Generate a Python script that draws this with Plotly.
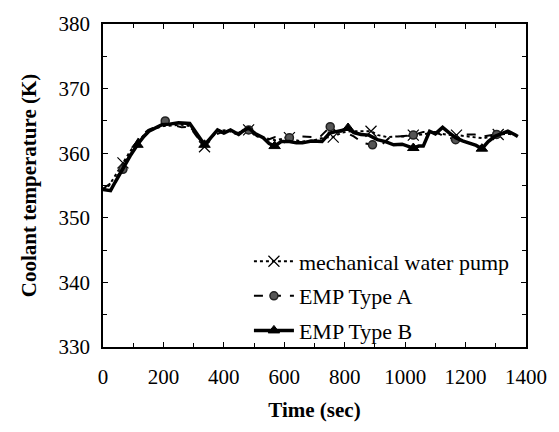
import plotly.graph_objects as go

# ---- data ----
t_mech = [0, 20, 40, 66, 90, 114, 140, 170, 200, 230, 260, 287, 310, 336, 360, 380, 410, 440, 482, 510,
          540, 570, 617, 640, 660, 700, 730, 762, 790, 820, 850, 887, 910, 940, 970, 1000, 1027, 1060, 1090,
          1120, 1150, 1170, 1200, 1230, 1260, 1290, 1308, 1340, 1370]
v_mech = [354.3, 355.0, 356.5, 358.5, 360.3, 361.8, 363.0, 363.8, 364.2, 364.3, 364.4, 364.2, 362.8, 361.0,
          362.5, 363.4, 363.6, 363.0, 363.6, 362.8, 362.3, 362.0, 362.4, 362.0, 361.8, 362.0, 362.4, 362.5,
          363.2, 363.4, 363.4, 363.4, 362.8, 362.5, 362.6, 362.6, 362.8, 362.9, 363.2, 363.0, 362.8, 362.8,
          362.6, 362.4, 362.3, 362.7, 362.9, 363.0, 362.8]
m_mech = [66, 336, 482, 617, 762, 887, 1027, 1170, 1308]

t_a = [0, 30, 66, 90, 120, 150, 180, 206, 230, 260, 287, 310, 336, 360, 390, 420, 450, 482, 510, 540,
       570, 617, 650, 690, 720, 752, 770, 800, 830, 860, 892, 920, 950, 990, 1027, 1060, 1100, 1130, 1167,
       1200, 1230, 1260, 1303, 1340, 1375]
v_a = [354.5, 355.5, 357.5, 360.0, 362.5, 363.6, 364.2, 365.0, 364.4, 364.0, 364.1, 362.6, 361.2, 362.6,
       363.2, 363.0, 363.2, 363.6, 362.6, 362.0, 362.5, 362.4, 362.6, 362.5, 362.6, 364.1, 363.4, 363.3,
       362.6, 361.6, 361.3, 361.2, 362.5, 362.6, 362.8, 363.3, 363.3, 362.6, 362.1, 362.9, 362.9, 362.6,
       362.9, 363.2, 362.4]
m_a = [66, 206, 482, 617, 752, 892, 1027, 1167, 1303]

t_b = [0, 25, 40, 66, 90, 114, 135, 152, 175, 195, 220, 250, 287, 310, 336, 355, 379, 400, 422, 449, 465,
       482, 505, 530, 550, 568, 590, 617, 640, 660, 690, 725, 750, 768, 790, 811, 830, 854, 880, 908, 935,
       962, 990, 1027, 1045, 1060, 1081, 1100, 1124, 1145, 1167, 1190, 1211, 1235, 1254, 1275, 1297, 1320,
       1340, 1362, 1373]
v_b = [354.4, 354.2, 355.5, 357.7, 359.6, 361.3, 362.6, 363.4, 364.0, 364.4, 364.5, 364.7, 364.6, 363.0,
       361.3, 362.3, 363.6, 363.1, 363.6, 362.9, 363.5, 363.9, 363.0, 362.4, 361.5, 361.1, 361.8, 361.8,
       361.6, 361.6, 361.9, 361.8, 363.1, 363.3, 363.5, 363.9, 363.2, 362.9, 362.8, 362.1, 361.8, 361.3,
       361.4, 360.8, 361.1, 361.1, 363.4, 363.0, 364.0, 363.2, 362.4, 361.9, 361.6, 361.2, 360.7, 361.8,
       362.6, 363.0, 363.4, 362.9, 362.6]
m_b = [114, 336, 568, 811, 1027, 1254]

names = ["mechanical water pump", "EMP Type A", "EMP Type B"]
x_ticks = [0, 200, 400, 600, 800, 1000, 1200, 1400]
y_ticks = [330, 340, 350, 360, 370, 380]

FONT = "Liberation Serif, Times New Roman, serif"


def pick(ts, vs, marks):
    idx = [ts.index(m) for m in marks]
    return [ts[i] for i in idx], [vs[i] for i in idx]


series = [
    (t_mech, v_mech, m_mech, dict(color="black", width=2, dash="dot"),
     dict(symbol="x-thin", size=11, line=dict(color="black", width=1.2), color="black")),
    (t_a, v_a, m_a, dict(color="black", width=2, dash="dash"),
     dict(symbol="circle", size=8, color="#555555", line=dict(color="#222222", width=1.5))),
    (t_b, v_b, m_b, dict(color="black", width=3.5),
     dict(symbol="triangle-up", size=10, color="black", line=dict(color="black", width=1))),
]

fig = go.Figure()
for i, (ts, vs, ms, ln, mk) in enumerate(series):
    fig.add_trace(go.Scatter(x=ts, y=vs, mode="lines", line=ln, showlegend=False, hoverinfo="skip"))
    mx, my = pick(ts, vs, ms)
    fig.add_trace(go.Scatter(x=mx, y=my, mode="markers", marker=mk, showlegend=False))
    fig.add_trace(go.Scatter(x=[None], y=[None], mode="lines+markers", line=ln, marker=mk,
                             name=names[i], legendgroup=f"g{i}"))

axis_common = dict(
    showline=True, linecolor="black", linewidth=1.5, mirror="ticks",
    ticks="inside", ticklen=5, tickcolor="black", tickwidth=1,
    showgrid=False, zeroline=False,
    tickfont=dict(family=FONT, size=21, color="black"),
)

fig.update_xaxes(range=[0, 1400], tickvals=x_ticks, ticktext=[str(v) for v in x_ticks],
                 minor=dict(dtick=100, ticks="inside", ticklen=4, tickcolor="black"),
                 ticklabelstandoff=10,
                 title=dict(text="<b>Time (sec)</b>", font=dict(family=FONT, size=21, color="black"), standoff=14),
                 **axis_common)
fig.update_yaxes(range=[330, 380], tickvals=y_ticks, ticktext=[str(v) for v in y_ticks],
                 minor=dict(dtick=5, ticks="inside", ticklen=4, tickcolor="black"),
                 ticklabelstandoff=7,
                 title=dict(text="<b>Coolant temperature (K)</b>", font=dict(family=FONT, size=21, color="black"), standoff=16),
                 **axis_common)

fig.update_layout(
    width=559, height=432,
    margin=dict(l=103, r=24, t=22, b=85),
    paper_bgcolor="white", plot_bgcolor="white",
    font=dict(family=FONT, color="black"),
    legend=dict(x=0.345, y=0.33, xanchor="left", yanchor="top", bgcolor="rgba(0,0,0,0)",
                font=dict(family=FONT, size=22, color="black"), tracegroupgap=3,
                itemwidth=40),
)

fig.write_html("out.html")
